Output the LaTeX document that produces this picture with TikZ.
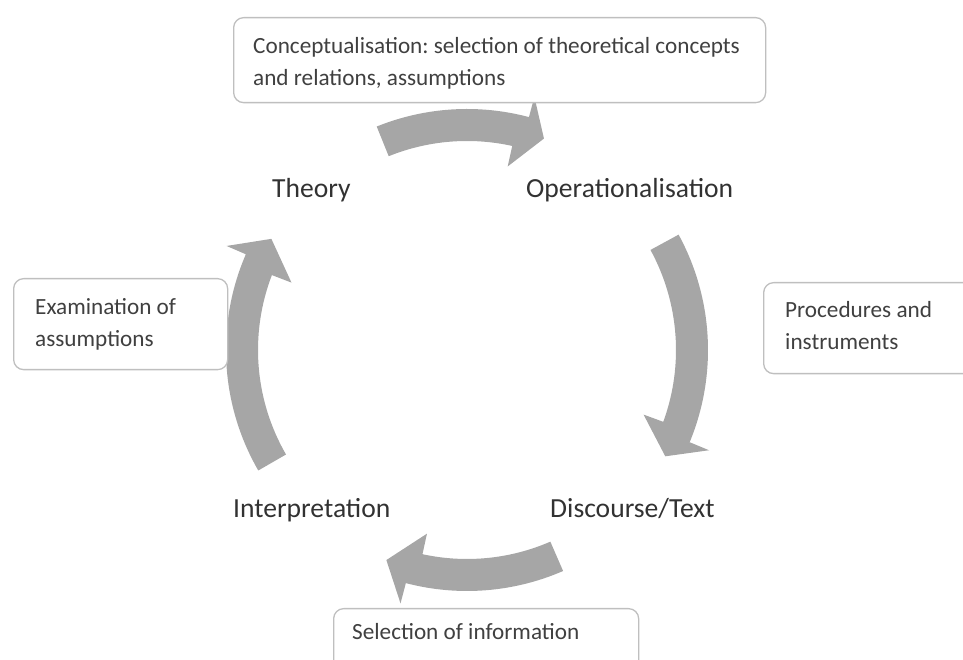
\documentclass[tikz,border=0pt]{standalone}
\usepackage{fontspec}
\setmainfont{Carlito}
\frenchspacing
\definecolor{arrowgray}{RGB}{166,166,166}
\definecolor{boxline}{RGB}{191,191,191}
\definecolor{txtbox}{RGB}{64,64,64}
\definecolor{txtstage}{RGB}{50,50,50}
\newcommand\cycarrow[3]{%
  \pgfmathsetmacro\arrOut{#2-1.2}%
  \pgfmathsetmacro\arrIn{#2+1.2}%
  \fill[cyc] ([shift={(C)}]#1:241pt)
    arc[start angle=#1, end angle=\arrOut, radius=241pt]
    -- ([shift={(C)}]\arrOut:262pt)
    -- ([shift={(C)}]#3:225pt)
    -- ([shift={(C)}]\arrIn:188pt)
    -- ([shift={(C)}]\arrIn:209pt)
    arc[start angle=\arrIn, end angle=#1, radius=209pt]
    -- cycle;}
\begin{document}
\begin{tikzpicture}[x=1pt,y=1pt,
  box/.style={draw=boxline, line width=1.3pt, rounded corners=10pt, fill=white, inner sep=0pt, anchor=north west},
  boxtext/.style={anchor=base west, inner sep=0pt, text=txtbox, font=\fontsize{23.2}{28}\selectfont},
  stage/.style={anchor=base west, inner sep=0pt, text=txtstage, font=\fontsize{27.6}{32}\selectfont},
  cyc/.style={fill=arrowgray}]
\useasboundingbox (0,0) rectangle (963,660);
\coordinate (C) at (467,310);
% cycle arrows
\cycarrow{112}{76.3}{70}
\cycarrow{28.6}{-21.3}{-28.2}
\cycarrow{-66.5}{-103.5}{-111}
\cycarrow{210}{157.8}{150.4}
% boxes
\node[box, minimum width=532pt, minimum height=85pt] (conc) at (233,643) {};
\node[box, minimum width=220pt, minimum height=91pt] (proc) at (763,378) {};
\node[box, minimum width=214pt, minimum height=91pt] (exam) at (13,382) {};
\node[box, minimum width=305pt, minimum height=80pt] (sel) at (333,52) {};
% box texts
\node[boxtext] (conc1) at (253,606) {Conceptualisation: selection of theoretical concepts};
\node[boxtext] (conc2) at (253,574) {and relations, assumptions};
\node[boxtext] (proc1) at (785,342) {Procedures and};
\node[boxtext] (proc2) at (785,310) {instruments};
\node[boxtext] (exam1) at (35,345) {Examination of};
\node[boxtext] (exam2) at (35,313) {assumptions};
\node[boxtext] (sel1) at (352,20) {Selection of information};
% stage labels
\node[stage] (theory) at (272,462) {Theory};
\node[stage] (oper) at (526,462) {Operationalisation};
\node[stage] (interp) at (233,142) {Interpretation};
\node[stage] (disc) at (550,142) {Discourse/Text};
\end{tikzpicture}
\end{document}
